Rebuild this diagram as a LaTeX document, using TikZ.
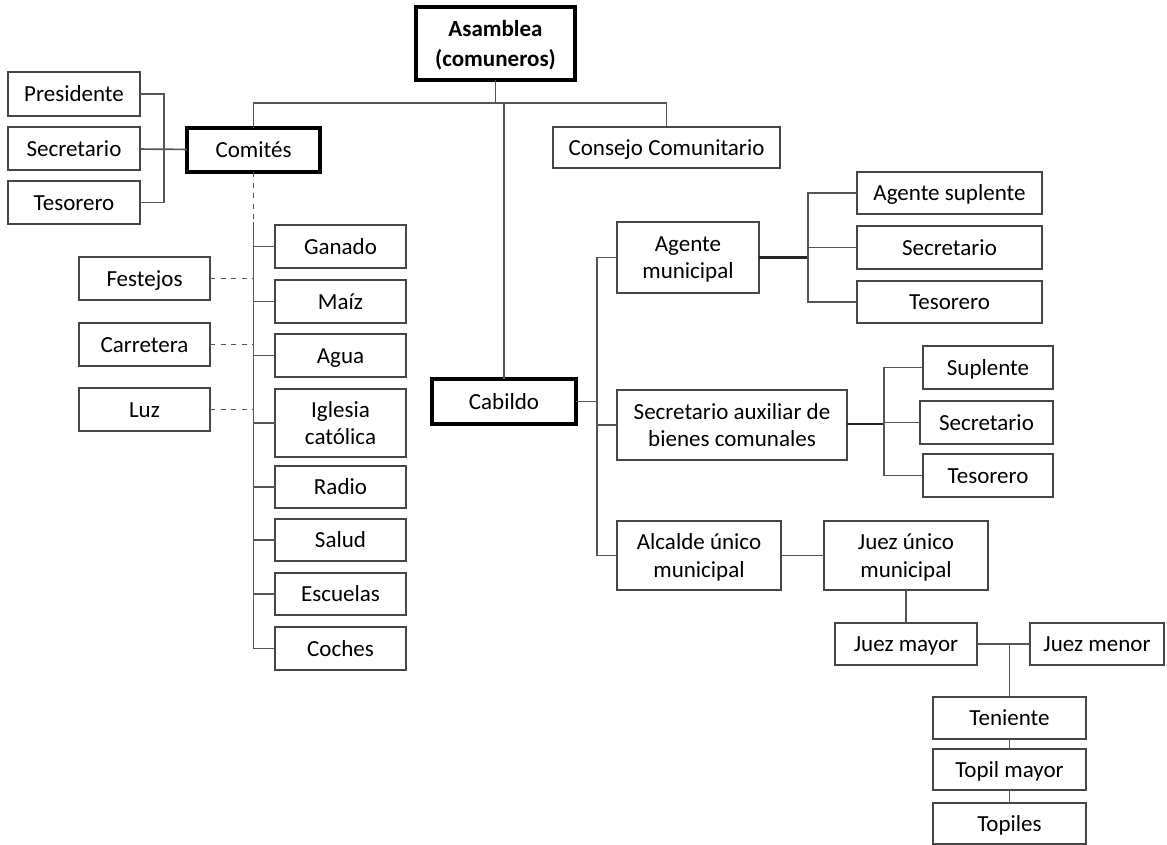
\documentclass[tikz,border=0pt]{standalone}
\usepackage{fontspec}
\setmainfont{Carlito}
\usepackage{tikz}
\usepackage{color}

\definecolor{boxgray}{RGB}{70,70,70}
\definecolor{linegray}{RGB}{85,85,85}
\newdimen\pxu
\pxu=0.02cm

\tikzset{
  box/.style 2 args={draw=boxgray, line width=0.9pt, inner sep=0pt, outer sep=0pt, align=center,
    minimum width=#1\pxu, minimum height=#2\pxu, font=\fontsize{13.1}{15.8}\selectfont,
    text height=8.6pt, text depth=0pt},
  twoline/.style={text height={}, text depth=0pt},
  mainbox/.style 2 args={box={#1}{#2}, draw=black, line width=1.9pt},
  conn/.style={draw=linegray, line width=0.95pt},
  heavyconn/.style={draw=black!85, line width=1.3pt}
}

\begin{document}
\begin{tikzpicture}[x=0.02cm,y=-0.02cm]
\useasboundingbox (0,0) rectangle (1167,845);

\node[mainbox={159}{73}, twoline, text depth=-3pt, font=\fontsize{13.1}{17}\selectfont\bfseries] (asam) at (495.5,43.5) {Asamblea\\(comuneros)};
\node[mainbox={133}{44}] (comi) at (253.5,150) {Comités};
\node[box={227}{41}] (cons) at (666.5,147.5) {Consejo Comunitario};
\node[mainbox={144}{45}] (cab) at (504,401.5) {Cabildo};

\node[box={132}{44}] (pres) at (74,94) {Presidente};
\node[box={132}{43}] (csec) at (74,148.5) {Secretario};
\node[box={132}{43}] (ctes) at (74,202.5) {Tesorero};

\node[box={131}{43}] (gan) at (340.5,246.5) {Ganado};
\node[box={131}{43}] (maiz) at (340.5,301.5) {Maíz};
\node[box={131}{43}] (agua) at (340.5,355.5) {Agua};
\node[box={131}{68}, twoline] (igl) at (340.5,423) {Iglesia\\católica};
\node[box={131}{42}] (radio) at (340.5,487) {Radio};
\node[box={131}{42}] (salud) at (340.5,540) {Salud};
\node[box={131}{42}] (esc) at (340.5,594) {Escuelas};
\node[box={131}{43}] (coch) at (340.5,648.5) {Coches};

\node[box={131}{43}] (fest) at (144.5,278.5) {Festejos};
\node[box={131}{43}] (carr) at (144.5,344.5) {Carretera};
\node[box={131}{43}] (luz) at (144.5,409.5) {Luz};

\node[box={142}{71}, twoline] (agm) at (688,257.5) {Agente\\municipal};
\node[box={230}{70}, twoline] (sab) at (732,425) {Secretario auxiliar de\\bienes comunales};
\node[box={164}{69}, twoline] (alc) at (699,555.5) {Alcalde único\\municipal};

\node[box={185}{42}] (asup) at (949.5,193) {Agente suplente};
\node[box={185}{43}] (asec) at (949.5,247.5) {Secretario};
\node[box={185}{42}] (ates) at (949.5,302) {Tesorero};

\node[box={130}{43}] (sup) at (988,367.5) {Suplente};
\node[box={133}{43}] (ssec) at (986.5,422.5) {Secretario};
\node[box={130}{43}] (stes) at (988,475.5) {Tesorero};

\node[box={164}{69}, twoline] (juez) at (906,555.5) {Juez único\\municipal};
\node[box={142}{42}] (jmay) at (906,644) {Juez mayor};
\node[box={134}{42}] (jmen) at (1097,644) {Juez menor};
\node[box={153}{42}] (ten) at (1009.5,718) {Teniente};
\node[box={153}{41}] (topm) at (1009.5,769.5) {Topil mayor};
\node[box={153}{41}] (topi) at (1009.5,823.5) {Topiles};

\coordinate (top) at (495.5,103);
\coordinate (cb) at (164,148.5);
\coordinate (vtop) at (253.5,222);
\coordinate (kb) at (597,401.5);
\coordinate (ab) at (808,257.5);
\coordinate (sb) at (884,424);

\draw[conn] (asam) -- (top);
\draw[conn] (comi.north) |- (top) -| (cons.north);
\draw[conn] (cab.north) -- (cab.north |- top);

\draw[conn] (pres.east) -| (cb) |- (ctes.east);
\draw[conn] (csec) -- (comi);

\draw[conn, dashed] (comi.south) -- (comi.south |- luz.east);
\draw[conn] (vtop) |- (coch.west);
\foreach \n in {gan,maiz,agua,igl,radio,salud,esc}
  \draw[conn] (\n.west) -- (\n.west -| vtop);
\foreach \n in {fest,carr,luz}
  \draw[conn, dashed] (\n.east) -- (\n.east -| vtop);

\draw[conn] (cab) -- (kb);
\draw[conn] (agm.west) -| (kb) |- (alc.west);
\draw[conn] (sab.west) -- (sab.west -| kb);

\draw[heavyconn] (agm.east) -- (ab);
\draw[conn] (asup.west) -| (ab) |- (ates.west);
\draw[conn] (asec.west) -- (asec.west -| ab);

\draw[heavyconn] (sab.east |- sb) -- (sb);
\draw[conn] (sup.west) -| (sb) |- (stes.west);
\draw[conn] (ssec.west) -- (ssec.west -| sb);

\draw[conn] (alc) -- (juez);
\draw[conn] (juez) -- (jmay);
\draw[conn] (jmay) -- (jmen);
\draw[conn] (ten.north) -- (ten.north |- jmay.east);
\draw[conn] (ten) -- (topm);
\draw[conn] (topm) -- (topi);

\end{tikzpicture}
\end{document}
